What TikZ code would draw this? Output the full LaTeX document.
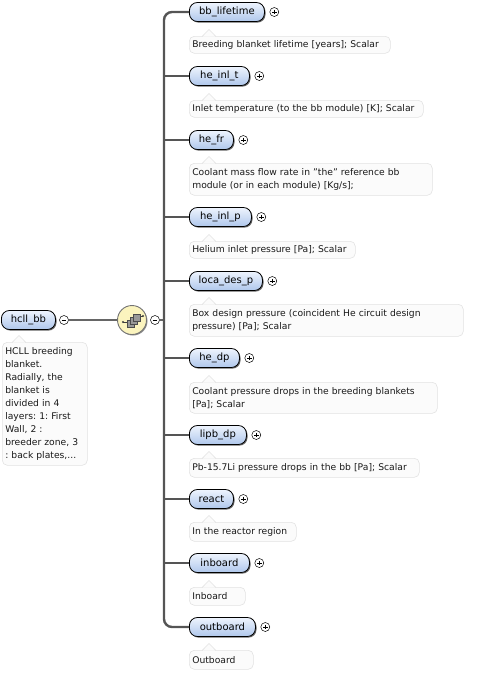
\documentclass[tikz,border=0pt]{standalone}
\usepackage{fontspec}
\setmainfont{DejaVu Sans}
\usetikzlibrary{shadows,calc}
\definecolor{edgec}{HTML}{555555}
\definecolor{boxtop}{HTML}{EEF4FD}
\definecolor{boxbot}{HTML}{AFC7EC}
\definecolor{descfill}{HTML}{FBFBFB}
\definecolor{descline}{HTML}{E2E2E2}
\definecolor{seqfill}{HTML}{FBF4BE}
\tikzset{
  elem/.style={draw=black, line width=0.8pt, rounded corners=8pt,
    top color=boxtop, bottom color=boxbot, minimum height=19pt,
    inner sep=0pt, anchor=west, font=\fontsize{10}{12}\selectfont,
    drop shadow={shadow xshift=1.1pt, shadow yshift=-1.1pt, fill=black!60, opacity=1}},
  desc/.style={draw=descline, fill=descfill, line width=0.6pt, rounded corners=5pt,
    anchor=north west, inner xsep=3pt, inner ysep=2pt, align=left,
    font=\fontsize{9.2}{13}\selectfont\frenchspacing, text=black!90},
  pm/.style={circle, draw=black, fill=white, line width=0.5pt, minimum size=9pt, inner sep=0pt},
  trunk/.style={draw=edgec, line width=2.4pt},
  link/.style={draw=edgec!90, line width=2pt},
  notch/.style={fill=descfill, draw=descline, line width=0.6pt},
}
\newcommand\pluss[1]{\draw[line width=0.5pt] ($(#1)+(-2.3,0)$) -- ($(#1)+(2.3,0)$) ($(#1)+(0,-2.3)$) -- ($(#1)+(0,2.3)$);}
\newcommand\minuss[1]{\draw[line width=0.5pt] ($(#1)+(-2.3,0)$) -- ($(#1)+(2.3,0)$);}
% id, y, box width, label, desc top, desc text width, desc height, desc text
\newcommand\erow[8]{%
  \node[elem, minimum width=#3] (#1) at (189,#2) {#4};
  \node[pm] (#1p) at ($(#1.east)+(9.5,0)$) {};
  \pluss{#1p}
  \node[desc, text width=#6, minimum height=#7] (#1d) at (189,#5) {#8};
  \path[notch] ($(#1d.north west)+(13,0.6)$) -- ($(#1d.north west)+(20,-6.5)$) -- ($(#1d.north west)+(27,0.6)$);
}
\begin{document}
\begin{tikzpicture}[x=1pt,y=-1pt]
\useasboundingbox (0,0) rectangle (487,673);
% root
\node[elem, minimum width=54] (root) at (1,320) {hcll\_bb};
\node[pm] (rootm) at (64,320) {};
\minuss{rootm}
\node[desc, text width=79pt, minimum height=123] (rootd) at (2,342)
  {HCLL breeding\\blanket.\\Radially, the\\blanket is\\divided in 4\\layers: 1: First\\Wall, 2 :\\breeder zone, 3\\: back plates,...};
\path[notch] ($(rootd.north west)+(10,0.6)$) -- ($(rootd.north west)+(17,-6.5)$) -- ($(rootd.north west)+(24,0.6)$);
% sequence
\node[circle, draw=black!55, line width=0.9pt, fill=seqfill, minimum size=29pt,
  drop shadow={shadow xshift=1pt, shadow yshift=-1pt, fill=black!45, opacity=1}] (seq) at (132,320) {};
\draw[link] (rootm) -- (seq);
\node[pm] (seqm) at (155,320) {};
\minuss{seqm}
\coordinate (tt) at (164,320);
\draw[link] (seqm) -- (tt);
% sequence icon
\begin{scope}[shift={(seq.center)}]
  \draw[black!75, line width=0.6pt] (-9,2) -- (-4,2);
  \fill[black!75] (-9,2) circle (1.2pt);
  \draw[black!75, line width=0.6pt] (7,-4) -- (11,-4);
  \fill[black!75] (11,-4) circle (1.2pt);
  \foreach \d in {0,3,6} {
    \draw[fill=black!40, draw=black!70, line width=0.5pt] (-5+\d,7-\d) rectangle (2+\d,0-\d);
  }
\end{scope}
% elements
\erow{bb}{12}{75}{bb\_lifetime}{36}{195pt}{17}{Breeding blanket lifetime [years]; Scalar}
\erow{hit}{76}{60}{he\_inl\_t}{100}{228pt}{17}{Inlet temperature (to the bb module) [K]; Scalar}
\erow{hfr}{140}{44}{he\_fr}{163}{237pt}{32}{Coolant mass flow rate in \symbol{34}the\symbol{34} reference bb\\module (or in each module) [Kg/s];}
\erow{hip}{217}{62}{he\_inl\_p}{241}{160pt}{17}{Helium inlet pressure [Pa]; Scalar}
\erow{ldp}{281}{73}{loca\_des\_p}{304}{268pt}{32}{Box design pressure (coincident He circuit design\\pressure) [Pa]; Scalar}
\erow{hdp}{358}{50}{he\_dp}{382}{242pt}{31}{Coolant pressure drops in the breeding blankets\\[0pt][Pa]; Scalar}
\erow{lip}{435}{57}{lipb\_dp}{458}{224pt}{19}{Pb-15.7Li pressure drops in the bb [Pa]; Scalar}
\erow{rea}{499}{44}{react}{522}{101pt}{19}{In the reactor region}
\erow{inb}{563}{60}{inboard}{587}{50pt}{18}{Inboard}
\erow{out}{627}{66}{outboard}{650}{58pt}{19}{Outboard}
% trunk
\draw[trunk, rounded corners=8pt] (bb.west) -| (tt) |- (out.west);
\foreach \n in {hit,hfr,hip,ldp,hdp,lip,rea,inb} {
  \draw[trunk] (\n.west -| tt) -- (\n.west);
}
\end{tikzpicture}
\end{document}
